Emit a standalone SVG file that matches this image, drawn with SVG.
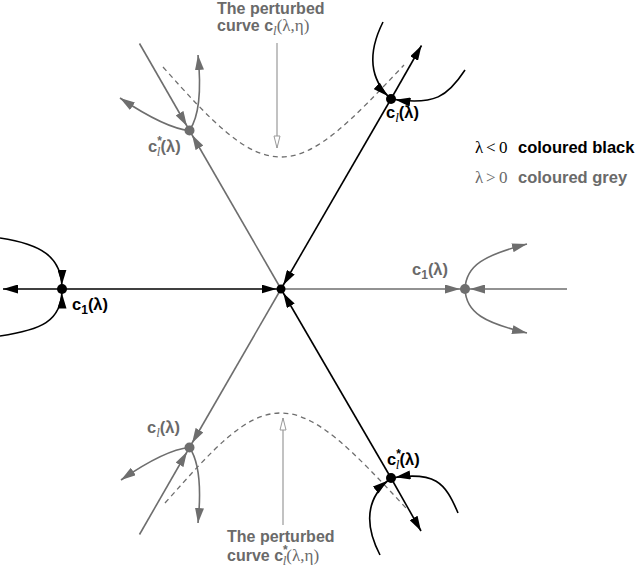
<svg xmlns="http://www.w3.org/2000/svg" width="640" height="567" viewBox="0 0 640 567">
<style>
.bk{fill:none;stroke:#000;stroke-width:1.6}
.gr{fill:none;stroke:#6e6e6e;stroke-width:1.6}
.dash{fill:none;stroke:#6e6e6e;stroke-width:1.3;stroke-dasharray:5 4}
.ptr{fill:none;stroke:#999;stroke-width:1.2}
text{font-family:"Liberation Sans",Arial,sans-serif;font-size:16.5px;font-weight:bold}
.tg{fill:#6a6a6a}
.tb{fill:#000}
.sub{font-family:"Liberation Serif","Times New Roman",serif;font-style:italic;font-weight:normal;font-size:13px}
.sub1{font-size:12px}
.ast{font-size:12px}
.ser{font-family:"Liberation Serif","Times New Roman",serif;font-weight:normal;font-size:17px}
.ttl{font-size:16px}
</style>
<defs>
<marker id="b" viewBox="0 0 15 9" refX="15" refY="4.5" markerWidth="15" markerHeight="9" orient="auto" markerUnits="userSpaceOnUse"><path d="M0,0 L15,4.5 L0,9 z" fill="#000"/></marker>
<marker id="bd" viewBox="0 0 15 9" refX="19.5" refY="4.5" markerWidth="15" markerHeight="9" orient="auto" markerUnits="userSpaceOnUse"><path d="M0,0 L15,4.5 L0,9 z" fill="#000"/></marker>
<marker id="g" viewBox="0 0 15 9" refX="15" refY="4.5" markerWidth="15" markerHeight="9" orient="auto" markerUnits="userSpaceOnUse"><path d="M0,0 L15,4.5 L0,9 z" fill="#6e6e6e"/></marker>
<marker id="gd" viewBox="0 0 15 9" refX="20" refY="4.5" markerWidth="15" markerHeight="9" orient="auto" markerUnits="userSpaceOnUse"><path d="M0,0 L15,4.5 L0,9 z" fill="#6e6e6e"/></marker>
<marker id="op" viewBox="-1 -1 14 8" refX="12" refY="3" markerWidth="14" markerHeight="8" orient="auto" markerUnits="userSpaceOnUse"><path d="M0,0 L12,3 L0,6 z" fill="#fff" stroke="#999" stroke-width="1"/></marker>
</defs>

<g id="connectors">
<path class="dash" d="M163,67 C212,122 245,157 281,157 C317,157 352,120 404,65"/>
<path class="dash" d="M165,503 C214,448 245,413 281,413 C317,413 354,452 406,508"/>
<path class="ptr" d="M277,43 L277,148" marker-end="url(#op)"/>
<path class="ptr" d="M283,525 L283,418" marker-end="url(#op)"/>

<path class="gr" d="M281,289 L465,289" marker-end="url(#gd)"/>
<path class="gr" d="M567,289 L465,289" marker-end="url(#gd)"/>
<path class="gr" d="M281,289 L189.5,130.5" marker-end="url(#gd)"/>
<path class="gr" d="M139.5,43.5 L189.5,130.5" marker-end="url(#gd)"/>
<path class="gr" d="M281,289 L189.5,447.5" marker-end="url(#gd)"/>
<path class="gr" d="M139.5,534.5 L189.5,447.5" marker-end="url(#gd)"/>

<path class="bk" d="M62,289 L3,289" marker-end="url(#b)"/>
<path class="bk" d="M62,289 L281,289" marker-end="url(#bd)"/>
<path class="bk" d="M391,99 L421.5,45.5" marker-end="url(#b)"/>
<path class="bk" d="M391,99 L281,289" marker-end="url(#bd)"/>
<path class="bk" d="M391,478 L421,531" marker-end="url(#b)"/>
<path class="bk" d="M391,478 L281,289" marker-end="url(#bd)"/>

<path class="gr" d="M465,289 C466,265 485,255 527,244" marker-end="url(#g)"/>
<path class="gr" d="M465,289 C466,313 485,323 527,333" marker-end="url(#g)"/>
<path class="gr" d="M189.5,130.5 C198,118 202,95 198,55" marker-end="url(#g)"/>
<path class="gr" d="M189.5,130.5 C172,129 150,118 120,98" marker-end="url(#g)"/>
<path class="gr" d="M189.5,447.5 C198,460 202,483 198,523" marker-end="url(#g)"/>
<path class="gr" d="M189.5,447.5 C172,449 150,460 121,480" marker-end="url(#g)"/>

<path class="bk" d="M0,238 C40,244 62,256 62,289" marker-end="url(#bd)"/>
<path class="bk" d="M0,336 C40,330 62,322 62,289" marker-end="url(#bd)"/>
<path class="bk" d="M383,22 C370,48 366,76 391,99" marker-end="url(#bd)"/>
<path class="bk" d="M465,70 C448,96 435,106 391,99" marker-end="url(#bd)"/>
<path class="bk" d="M458,513 C445,482 435,471 391,478" marker-end="url(#bd)"/>
<path class="bk" d="M380,555 C366,528 363,500 391,478" marker-end="url(#bd)"/>
</g>

<g id="center"><circle cx="281" cy="289" r="4.5" fill="#000"/></g>
<g id="c1-black"><circle cx="62" cy="289" r="5" fill="#000"/>
<text class="tb" x="72" y="310">c<tspan class="sub1" dy="4">1</tspan><tspan dy="-4">(λ)</tspan></text></g>
<g id="cl-black"><circle cx="391" cy="99" r="5" fill="#000"/>
<text class="tb" x="386" y="118">c<tspan class="sub" dy="4">l</tspan><tspan dy="-4">(λ)</tspan></text></g>
<g id="clstar-black"><circle cx="391" cy="478" r="5" fill="#000"/>
<text class="tb" x="387" y="465">c<tspan class="ast" dy="-7">*</tspan><tspan class="sub" dx="-5" dy="11">l</tspan><tspan dy="-4">(λ)</tspan></text></g>
<g id="c1-grey"><circle cx="465" cy="289" r="5" fill="#6e6e6e"/>
<text class="tg" x="412" y="275">c<tspan class="sub1" dy="4">1</tspan><tspan dy="-4">(λ)</tspan></text></g>
<g id="clstar-grey"><circle cx="189.5" cy="130.5" r="5" fill="#6e6e6e"/>
<text class="tg" x="148" y="152">c<tspan class="ast" dy="-7">*</tspan><tspan class="sub" dx="-5" dy="11">l</tspan><tspan dy="-4">(λ)</tspan></text></g>
<g id="cl-grey"><circle cx="189.5" cy="447.5" r="5" fill="#6e6e6e"/>
<text class="tg" x="147" y="433">c<tspan class="sub" dy="4">l</tspan><tspan dy="-4">(λ)</tspan></text></g>

<g id="label-top">
<text class="tg ttl" x="217" y="14">The perturbed</text>
<text class="tg ttl" x="217" y="31">curve c<tspan class="sub" dy="4">l</tspan><tspan class="ser" dy="-4">(λ,η)</tspan></text>
</g>
<g id="label-bottom">
<text class="tg ttl" x="227" y="542">The perturbed</text>
<text class="tg ttl" x="227" y="561">curve  c<tspan class="ast" dy="-7">*</tspan><tspan class="sub" dx="-5" dy="11">l</tspan><tspan class="ser" dy="-4">(λ,η)</tspan></text>
</g>
<g id="legend">
<text class="tb" y="153"><tspan class="ser" x="475">λ</tspan><tspan class="ser" x="486">&lt;</tspan><tspan class="ser" x="499">0</tspan><tspan x="518">coloured black</tspan></text>
<text class="tg" y="183"><tspan class="ser" x="475">λ</tspan><tspan class="ser" x="486">&gt;</tspan><tspan class="ser" x="499">0</tspan><tspan x="518">coloured grey</tspan></text>
</g>
</svg>
